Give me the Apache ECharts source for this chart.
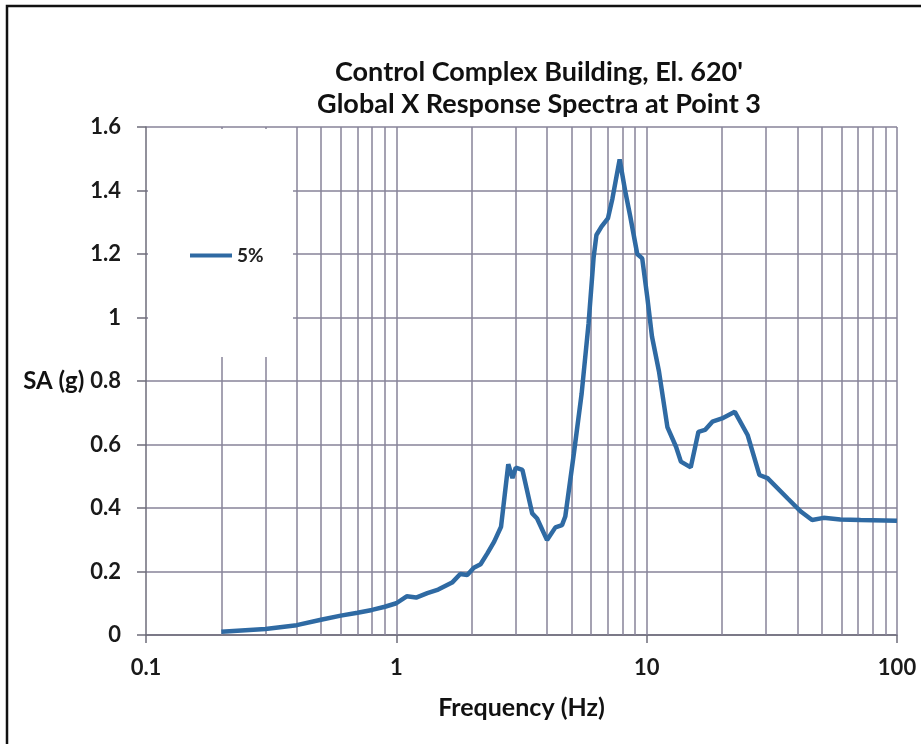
<!DOCTYPE html>
<html>
<head>
    <meta charset="utf-8">
    <script src="https://cdn.jsdelivr.net/npm/echarts@6/dist/echarts.min.js"></script>
    <style>
    html, body { margin: 0; padding: 0; background: #fff; }
    #main1 { width: 921px; height: 744px; }
    </style>
</head>
<body>
    <div id="main1"></div>
    <script type="text/javascript">
    // frequency (Hz) and spectral acceleration (g)
    var freq = [0.2, 0.3, 0.4, 0.5, 0.6, 0.7, 0.8, 0.9, 1.0, 1.1, 1.2, 1.33, 1.47, 1.67, 1.8, 1.92, 2.04, 2.17, 2.31, 2.46,
        2.62, 2.8, 2.91, 3.0, 3.19, 3.49, 3.65, 4.0, 4.32, 4.59, 4.73, 5.12, 5.5, 5.86, 6.14, 6.3, 6.6, 7.0, 7.3, 7.8,
        8.2, 8.6, 9.17, 9.6, 10.05, 10.5, 11.2, 12.1, 13.1, 13.7, 15.0, 16.1, 17.1, 18.3, 20.0, 22.5, 25.3, 28.2, 30.4,
        36.6, 41.4, 45.8, 50.9, 59.4, 71.5, 100];
    var sa5 = [0.01, 0.019, 0.031, 0.048, 0.061, 0.07, 0.079, 0.089, 0.1, 0.122, 0.118, 0.132, 0.143, 0.165, 0.192, 0.189, 0.212, 0.223, 0.257, 0.294,
        0.341, 0.538, 0.494, 0.527, 0.52, 0.383, 0.367, 0.299, 0.339, 0.346, 0.373, 0.572, 0.761, 0.981, 1.19, 1.26, 1.286, 1.312, 1.375, 1.498,
        1.40, 1.318, 1.20, 1.186, 1.066, 0.94, 0.83, 0.655, 0.593, 0.546, 0.528, 0.64, 0.646, 0.672, 0.682, 0.703, 0.63, 0.504, 0.494,
        0.43, 0.388, 0.362, 0.369, 0.364, 0.362, 0.36];
    // vertical grid lines of the log axis
    var gridFreqs = [0.2, 0.3, 0.4, 0.5, 0.6, 0.7, 0.8, 0.9, 1, 2, 3, 4, 5, 6, 7, 8, 9, 10,
        20, 30, 40, 50, 60, 70, 80, 90, 100];

    var gridColor = '#878399';
    var font = 'Lato, "Open Sans", sans-serif';

    var myChart = echarts.init(document.getElementById('main1'));

    var data = freq.map(function (f, i) { return [f, sa5[i]]; });

    var option = {
        backgroundColor: '#fff',
        animation: false,
        title: {
            text: "Control Complex Building, El. 620'\nGlobal X Response Spectra at Point 3",
            left: 534,
            top: 51,
            textAlign: 'center',
            textStyle: { fontFamily: font, fontWeight: 'bold', fontSize: 27, lineHeight: 32, color: '#111' }
        },
        legend: {
            data: ['5%'],
            left: 185,
            top: 241,
            icon: 'rect',
            itemWidth: 42,
            itemHeight: 4,
            z: 6,
            textStyle: { fontFamily: font, fontWeight: 'bold', fontSize: 19, color: '#222' }
        },
        grid: { left: 146, right: 24, top: 127, bottom: 109 },
        graphic: [
            // outer frame of the figure
            { type: 'rect', z: 10, silent: true,
              shape: { x: 7, y: 6, width: 940, height: 760 },
              style: { fill: null, stroke: '#111', lineWidth: 2.5 } },
            // white box behind the legend
            { type: 'rect', z: 3, silent: true,
              shape: { x: 148, y: 129, width: 145, height: 228 },
              style: { fill: '#fff' } }
        ],
        xAxis: {
            type: 'log',
            logBase: 10,
            min: 0.1,
            max: 100,
            name: 'Frequency (Hz)',
            nameLocation: 'middle',
            nameGap: 60,
            nameTextStyle: { fontFamily: font, fontWeight: 'bold', fontSize: 25, color: '#111' },
            axisLine: { lineStyle: { color: '#6e6c7a', width: 1.5 } },
            axisTick: { show: true, inside: false, length: 8, lineStyle: { color: '#6e6c7a', width: 1.5 } },
            axisLabel: { margin: 22, fontFamily: font, fontWeight: 'bold', fontSize: 22, color: '#1a1a1a' },
            splitLine: { show: false },
            minorTick: { show: false },
            minorSplitLine: { show: false }
        },
        yAxis: {
            type: 'value',
            min: 0,
            max: 1.6,
            interval: 0.2,
            name: 'SA (g)',
            nameLocation: 'middle',
            nameRotate: 0,
            nameGap: 61,
            nameTextStyle: { fontFamily: font, fontWeight: 'bold', fontSize: 24, color: '#111' },
            axisLine: { show: true, lineStyle: { color: '#6e6c7a', width: 1.5 } },
            axisTick: { show: true, inside: false, length: 9, lineStyle: { color: '#6e6c7a', width: 1.5 } },
            axisLabel: { margin: 25, fontFamily: font, fontWeight: 'bold', fontSize: 22, color: '#1a1a1a' },
            splitLine: { show: true, lineStyle: { color: gridColor, width: 1.5 } }
        },
        series: [
            {
                name: '5%',
                type: 'line',
                data: data,
                z: 5,
                showSymbol: false,
                symbol: 'none',
                color: '#2f6aa3',
                lineStyle: { width: 4.5, color: '#2f6aa3' },
                markLine: {
                    z: 1,
                    silent: true,
                    symbol: 'none',
                    label: { show: false },
                    lineStyle: { color: gridColor, width: 1.5, type: 'solid' },
                    data: gridFreqs.map(function (f) { return { xAxis: f }; })
                }
            }
        ]
    };

    myChart.setOption(option);
    </script>
</body>
</html>
